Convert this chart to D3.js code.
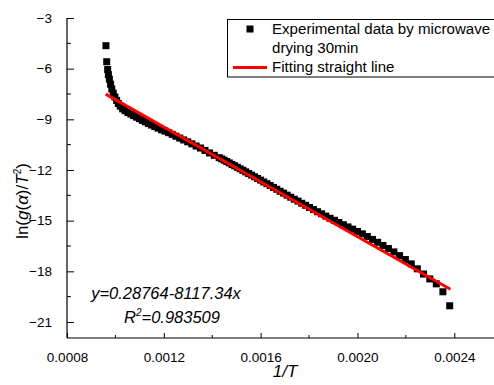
<!DOCTYPE html>
<html>
<head>
<meta charset="utf-8">
<script src="https://cdn.jsdelivr.net/npm/d3@7"></script>
<style>
  html, body { margin: 0; padding: 0; background: #fff; }
  svg { display: block; font-family: Arial, "Liberation Sans", sans-serif; }
</style>
</head>
<body>
<svg id="chart" width="494" height="385"></svg>
<script>
// ---- data ----
const dataX = [
  0.000961, 0.000964, 0.000968, 0.000971, 0.000975, 0.000980, 0.000985, 0.000991, 0.000998, 0.001005,
  0.001012, 0.001020, 0.001030, 0.001040, 0.001052,
  0.0010638, 0.0010753, 0.0010870, 0.0010989, 0.0011111, 0.0011236, 0.0011364, 0.0011494, 0.0011628, 0.0011765,
  0.0011905, 0.0012048, 0.0012195, 0.0012346, 0.0012500, 0.0012658, 0.0012821, 0.0012987, 0.0013158, 0.0013333,
  0.0013514, 0.0013699, 0.0013889, 0.0014085, 0.0014286,
  0.0014389, 0.0014493, 0.0014599, 0.0014706, 0.0014815, 0.0014925, 0.0015038, 0.0015152, 0.0015267, 0.0015385,
  0.0015504, 0.0015625, 0.0015748, 0.0015873, 0.0016000, 0.0016129, 0.0016260, 0.0016393, 0.0016529, 0.0016667,
  0.0016807, 0.0016949, 0.0017094, 0.0017241, 0.0017391, 0.0017544, 0.0017699, 0.0017857, 0.0018018, 0.0018182,
  0.0018349, 0.0018519, 0.0018692, 0.0018868, 0.0019048, 0.0019231, 0.0019417, 0.0019608, 0.0019802, 0.0020000,
  0.0020202, 0.0020408, 0.0020619, 0.0020833, 0.0021053, 0.0021277, 0.0021505, 0.0021739, 0.0021978, 0.0022222,
  0.0022472, 0.0022727, 0.0022989, 0.0023256, 0.0023529, 0.0023810
];
const dataY = [
  -4.64, -5.59, -6.05, -6.35, -6.62, -6.92, -7.20, -7.45, -7.68, -7.88,
  -8.06, -8.22, -8.38, -8.49, -8.60,
  -8.69, -8.78, -8.87, -8.96, -9.06, -9.15, -9.25, -9.34, -9.43, -9.52,
  -9.62, -9.70, -9.79, -9.89, -10.00, -10.11, -10.22, -10.33, -10.45, -10.58,
  -10.70, -10.84, -10.99, -11.13, -11.27,
  -11.34, -11.42, -11.50, -11.58, -11.67, -11.75, -11.84, -11.93, -12.02, -12.11,
  -12.21, -12.30, -12.40, -12.50, -12.60, -12.71, -12.81, -12.92, -13.03, -13.14,
  -13.26, -13.37, -13.49, -13.61, -13.73, -13.84, -13.97, -14.09, -14.22, -14.34,
  -14.47, -14.59, -14.73, -14.86, -14.98, -15.11, -15.24, -15.37, -15.50, -15.64,
  -15.78, -15.94, -16.11, -16.28, -16.47, -16.65, -16.85, -17.07, -17.30, -17.56,
  -17.85, -18.16, -18.45, -18.74, -19.21, -20.04
];
const fitX = [0.00096, 0.002384];
const fitY = [-7.505, -19.064];

const xTicksMajor = [0.0008, 0.0012, 0.0016, 0.0020, 0.0024];
const xTicksMinor = [0.0010, 0.0014, 0.0018, 0.0022];
const yTicksMajor = [-3, -6, -9, -12, -15, -18, -21];
const yTicksMinor = [-4.5, -7.5, -10.5, -13.5, -16.5, -19.5];

const legendLabels = ["Experimental data by microwave", "drying 30min", "Fitting straight line"];
const equationText = "y=0.28764-8117.34x";
const r2Value = "=0.983509";

// ---- layout ----
const W = 494, H = 385;
const plotLeft = 67, axisBottom = 338, plotTop = 18;
const svg = d3.select("#chart");

const x = d3.scaleLinear().domain([0.0008, 0.0024]).range([plotLeft, 454.3]);
const y = d3.scaleLinear().domain([-21, -3]).range([322, plotTop]);

// points
svg.append("g").selectAll("rect").data(dataX.map((d, i) => [d, dataY[i]])).join("rect")
  .attr("x", d => x(d[0]) - 3.5).attr("y", d => y(d[1]) - 3.5)
  .attr("width", 7).attr("height", 7).attr("fill", "#000");

// fit line
svg.append("path")
  .attr("d", d3.line().x(d => x(d[0])).y(d => y(d[1]))(fitX.map((d, i) => [d, fitY[i]])))
  .attr("stroke", "#ff0000").attr("stroke-width", 3).attr("fill", "none");

// axes lines
svg.append("line").attr("x1", plotLeft).attr("x2", W).attr("y1", axisBottom).attr("y2", axisBottom)
  .attr("stroke", "#000").attr("stroke-width", 1.2);
svg.append("line").attr("x1", plotLeft).attr("x2", plotLeft).attr("y1", plotTop).attr("y2", axisBottom)
  .attr("stroke", "#000").attr("stroke-width", 1.2);

// x axis ticks
const xAxis = svg.append("g").attr("transform", `translate(0,${axisBottom})`)
  .call(d3.axisBottom(x).tickValues(xTicksMajor).tickSizeInner(-5).tickSizeOuter(0)
    .tickPadding(14).tickFormat(d3.format(".4f")));
xAxis.select(".domain").remove();
xAxis.selectAll("text").attr("font-size", 13.5).attr("fill", "#000").attr("font-family", "Arial, 'Liberation Sans', sans-serif");
xAxis.selectAll("line").attr("stroke", "#000");
svg.append("g").selectAll("line").data(xTicksMinor).join("line")
  .attr("x1", d => x(d)).attr("x2", d => x(d)).attr("y1", axisBottom).attr("y2", axisBottom - 3)
  .attr("stroke", "#000");

// y axis ticks
const yAxis = svg.append("g").attr("transform", `translate(${plotLeft},0)`)
  .call(d3.axisLeft(y).tickValues(yTicksMajor).tickSizeInner(-7).tickSizeOuter(0)
    .tickPadding(15).tickFormat(d3.format("d")));
yAxis.select(".domain").remove();
yAxis.selectAll("text").attr("font-size", 13.5).attr("fill", "#000").attr("font-family", "Arial, 'Liberation Sans', sans-serif");
yAxis.selectAll("line").attr("stroke", "#000");
svg.append("g").selectAll("line").data(yTicksMinor).join("line")
  .attr("x1", plotLeft).attr("x2", plotLeft + 4).attr("y1", d => y(d)).attr("y2", d => y(d))
  .attr("stroke", "#000");

// axis titles
svg.append("text").attr("x", 285).attr("y", 377).attr("text-anchor", "middle")
  .attr("font-size", 17).attr("font-style", "italic").text("1/T");

const yt = svg.append("text").attr("transform", "translate(28,201) rotate(-90)")
  .attr("text-anchor", "middle").attr("font-size", 17);
yt.append("tspan").text("ln(");
yt.append("tspan").attr("font-style", "italic").text("g");
yt.append("tspan").text("(");
yt.append("tspan").attr("font-style", "italic").text("α");
yt.append("tspan").text(")/");
yt.append("tspan").attr("font-style", "italic").text("T");
yt.append("tspan").attr("font-size", 10).attr("dy", -7).text("2");
yt.append("tspan").attr("dy", 7).text(")");

// legend
svg.append("rect").attr("x", 227.5).attr("y", 19.5).attr("width", 300).attr("height", 57.5)
  .attr("fill", "#fff").attr("stroke", "#000").attr("stroke-width", 1);
svg.append("rect").attr("x", 246.5).attr("y", 25.5).attr("width", 7).attr("height", 7).attr("fill", "#000");
svg.append("line").attr("x1", 233).attr("x2", 267).attr("y1", 67.5).attr("y2", 67.5)
  .attr("stroke", "#ff0000").attr("stroke-width", 3);
const legY = [34, 53, 72];
legendLabels.forEach((t, i) => {
  svg.append("text").attr("x", 272).attr("y", legY[i]).attr("font-size", 15.1).text(t);
});

// equation
svg.append("text").attr("x", 166).attr("y", 299).attr("text-anchor", "middle")
  .attr("font-size", 16.5).attr("font-style", "italic").text(equationText);
const r2 = svg.append("text").attr("x", 172).attr("y", 323).attr("text-anchor", "middle")
  .attr("font-size", 16.5).attr("font-style", "italic");
r2.append("tspan").text("R");
r2.append("tspan").attr("font-size", 10).attr("dy", -7).text("2");
r2.append("tspan").attr("dy", 7).text(r2Value);
</script>
</body>
</html>
